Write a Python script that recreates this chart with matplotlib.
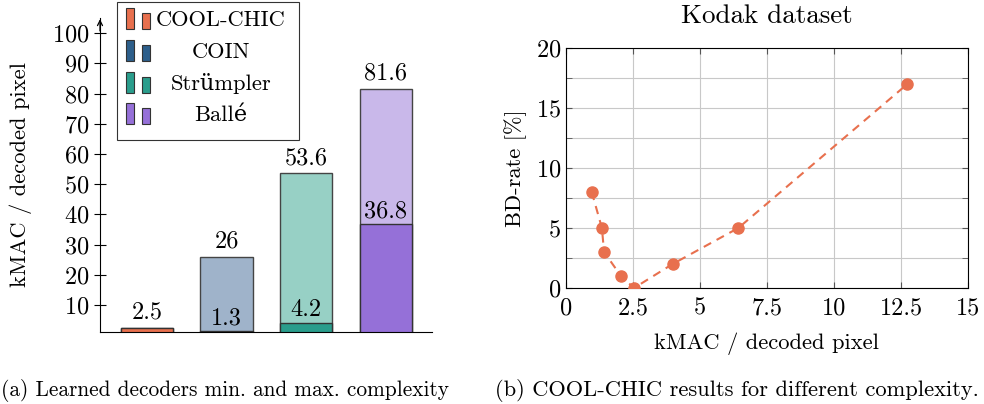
import matplotlib.pyplot as plt
from matplotlib.patches import Rectangle
from matplotlib.ticker import MultipleLocator
import numpy as np

plt.rcParams['font.family'] = ['cmr10', 'DejaVu Serif']
plt.rcParams['mathtext.fontset'] = 'cm'
plt.rcParams['axes.formatter.use_mathtext'] = True
plt.rcParams['font.size'] = 16.2
plt.rcParams['xtick.labelsize'] = 17.5
plt.rcParams['ytick.labelsize'] = 17.5

# ── data ────────────────────────────────────────────────────────────
methods = ["COOL-CHIC", "COIN", "Strümpler", "Ballé"]
kmac_max = [2.5, 26, 53.6, 81.6]
kmac_min = [2.5, 1.3, 4.2, 36.8]
color_dark = ["#E8704E", "#2D5F8B", "#2A9D8C", "#9570D8"]
color_light = ["#F2A68F", "#9FB3CA", "#97D0C5", "#C9B8EA"]

cc_kmac = [0.96, 1.34, 1.42, 2.05, 2.54, 3.98, 6.43, 12.74]
cc_bdrate = [8, 5, 3, 1, 0, 2, 5, 17]

W, H = 984, 404
fig = plt.figure(figsize=(W / 100, H / 100), dpi=100)

# ── (a) bar chart ──────────────────────────────────────────────────
ax1 = fig.add_axes([100 / W, 1 - 332 / H, 332 / W, 314 / H])
x = np.arange(len(methods))
ax1.bar(x, kmac_max, 0.66, color=color_light, edgecolor="#444444", lw=1)
ax1.bar(x, kmac_min, 0.66, color=color_dark, edgecolor="#333333", lw=1)
for i in range(len(methods)):
    ax1.annotate(f"{kmac_max[i]:g}", (x[i], kmac_max[i]), xytext=(0, 3),
                 textcoords="offset points", ha="center", va="bottom",
                 fontsize=17.5)
    if kmac_min[i] != kmac_max[i]:
        ax1.annotate(f"{kmac_min[i]:g}", (x[i], kmac_min[i]), xytext=(0, 1),
                     textcoords="offset points", ha="center", va="bottom",
                     fontsize=17.5)
ax1.set_xlim(-0.59, 3.58)
ax1.set_ylim(1.06, 105)
ax1.set_yticks(np.arange(10, 101, 10))
ax1.set_xticks([])
ax1.spines[["top", "right"]].set_visible(False)
ax1.tick_params(axis="y", direction="inout", length=8, width=0.8)
ax1.annotate("", xy=(0, 1.005), xytext=(0, 0.95), xycoords="axes fraction",
             arrowprops=dict(arrowstyle="->", lw=0.9, color="black",
                             mutation_scale=9))
ax1.set_ylabel("kMAC / decoded pixel")
ax1.yaxis.set_label_coords(-68 / 332, 0.5)

# legend built by hand (two bars per entry, centred labels)
fig.patches.append(Rectangle((117 / W, 1 - 140 / H), 182 / W, 138 / H,
                             transform=fig.transFigure, fc="white",
                             ec="#333333", lw=0.8, zorder=5))
for i, name in enumerate(methods):
    top = 8 + i * 31.8
    fig.patches.append(Rectangle((126 / W, 1 - (top + 21) / H), 8 / W, 21 / H,
                                 transform=fig.transFigure, fc=color_dark[i],
                                 ec="#333333", lw=0.8, zorder=6))
    fig.patches.append(Rectangle((142 / W, 1 - (top + 21) / H), 8 / W, 16 / H,
                                 transform=fig.transFigure, fc=color_dark[i],
                                 ec="#333333", lw=0.8, zorder=6))
    fig.text(221 / W, 1 - (top + 12) / H, name, ha="center", va="center",
             zorder=7)

# ── (b) line chart ─────────────────────────────────────────────────
ax2 = fig.add_axes([566 / W, 1 - 288 / H, 402 / W, 240 / H])
ax2.plot(cc_kmac, cc_bdrate, "--o", color="#E8704E", lw=1.5, ms=8,
         dashes=(4, 3), zorder=3)
ax2.set_xlim(0, 15)
ax2.set_ylim(0, 20)
ax2.yaxis.set_major_locator(MultipleLocator(5))
ax2.yaxis.set_minor_locator(MultipleLocator(2.5))
ax2.set_xticks([0, 2.5, 5, 7.5, 10, 12.5, 15],
               ["0", "2.5", "5", "7.5", "10", "12.5", "15"])
ax2.grid(True, which="both", color="#C8C8C8", lw=0.8)
ax2.set_axisbelow(True)
ax2.tick_params(which="both", direction="in", top=True, right=True,
                length=4, color="#555555")
ax2.tick_params(axis="x", pad=7)
for s in ax2.spines.values():
    s.set_linewidth(0.8)
ax2.set_title("Kodak dataset", pad=18)
ax2.set_xlabel("kMAC / decoded pixel", labelpad=9)
ax2.set_ylabel("BD-rate [%]", labelpad=6)

# captions
fig.text(1 / W, 1 - 390 / H, "(a) Learned decoders min. and max. complexity",
         ha="left", va="center", fontsize=15.4)
fig.text(737 / W, 1 - 390 / H, "(b) COOL-CHIC results for different complexity.",
         ha="center", va="center")

fig.savefig("out.png", dpi=100)
